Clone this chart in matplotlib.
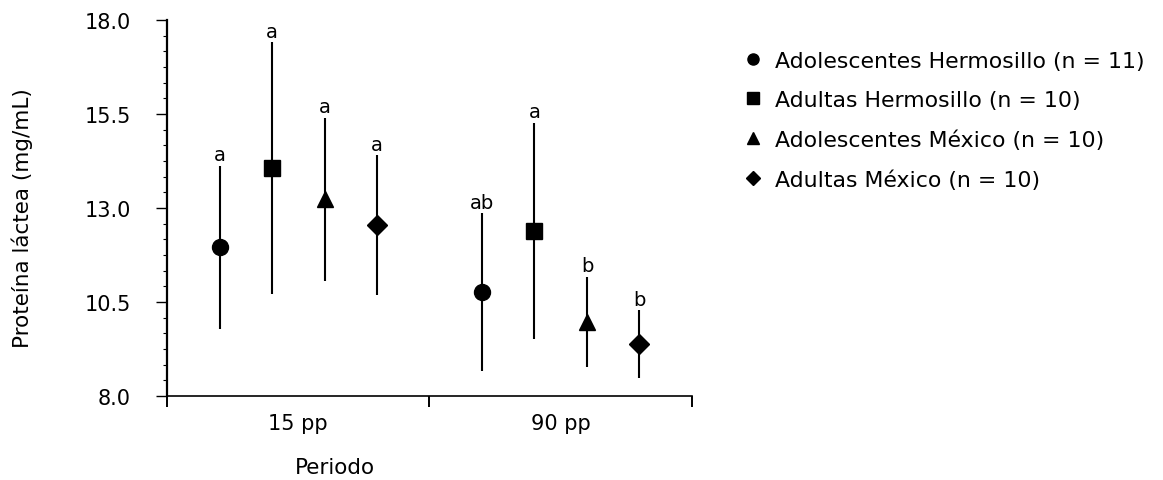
import matplotlib
matplotlib.use("Agg")
import matplotlib.pyplot as plt
from matplotlib.ticker import AutoMinorLocator, FixedLocator
from matplotlib.lines import Line2D

plt.rcParams['font.family'] = ['DejaVu Sans']

periodos = ['15 pp', '90 pp']
grupos = ['Adolescentes Hermosillo (n = 11)', 'Adultas Hermosillo (n = 10)',
          'Adolescentes México (n = 10)', 'Adultas México (n = 10)']
marcadores = ['o', 's', '^', 'D']
tamanos = [11.5, 11, 12, 10.5]
offsets = [0.2, 0.4, 0.6, 0.8]

# media y desviacion por grupo, [15 pp, 90 pp]
media = [[11.96, 10.77], [14.06, 12.39], [13.24, 9.97], [12.55, 9.38]]
desv = [[2.17, 2.1], [3.35, 2.88], [2.17, 1.2], [1.86, 0.9]]
letras = [['a', 'ab'], ['a', 'a'], ['a', 'b'], ['a', 'b']]

fig = plt.figure(figsize=(11.63, 4.81), dpi=100)
ax = fig.add_axes([0.1436, 0.1746, 0.4514, 0.7814])

for i in range(len(grupos)):
    for j in range(len(periodos)):
        x = j + offsets[i]
        ax.errorbar(x, media[i][j], yerr=desv[i][j], fmt=marcadores[i], color='black',
                    ms=tamanos[i], elinewidth=1.5, capsize=0)
        ax.annotate(letras[i][j], (x, media[i][j] + desv[i][j]), xytext=(0, 1),
                    textcoords='offset points', ha='center', va='bottom', fontsize=14)

ax.set_xlim(0, 2)
ax.set_ylim(8.0, 18.0)
ax.set_yticks([8.0, 10.5, 13.0, 15.5, 18.0])
ax.set_yticklabels(['8.0', '10.5', '13.0', '15.5', '18.0'])
ax.yaxis.set_minor_locator(AutoMinorLocator(6))
ax.set_xticks([0, 1, 2])
ax.set_xticklabels([])
ax.xaxis.set_minor_locator(FixedLocator([0.5, 1.5]))
ax.set_xticklabels(periodos, minor=True)
ax.tick_params(axis='x', which='minor', length=0, pad=12, labelsize=15)
ax.tick_params(axis='x', which='major', length=8, width=1.4)
ax.tick_params(axis='y', which='major', length=8, width=1.0, pad=18, labelsize=15)
ax.tick_params(axis='y', which='minor', length=3, width=0.8)
for s in ['top', 'right']:
    ax.spines[s].set_visible(False)
ax.spines['left'].set_linewidth(1.6)
ax.spines['bottom'].set_linewidth(1.2)

fig.text(22 / 1163, 1 - 218 / 481, 'Proteína láctea (mg/mL)', rotation=90, ha='center',
         va='center', fontsize=15.5)
fig.text(335 / 1163, 1 - 468 / 481, 'Periodo', ha='center', va='center', fontsize=15.5)

handles = [Line2D([], [], ls='none', marker=m, color='black', ms=(7 if m == 'D' else 8))
           for m in marcadores]
fig.legend(handles, grupos, loc='upper left', bbox_to_anchor=(722 / 1163, 1 - 32 / 481),
           frameon=False, fontsize=15.8, handletextpad=0.5, labelspacing=0.88,
           handlelength=1.0)

fig.savefig('out.png', dpi=100)
